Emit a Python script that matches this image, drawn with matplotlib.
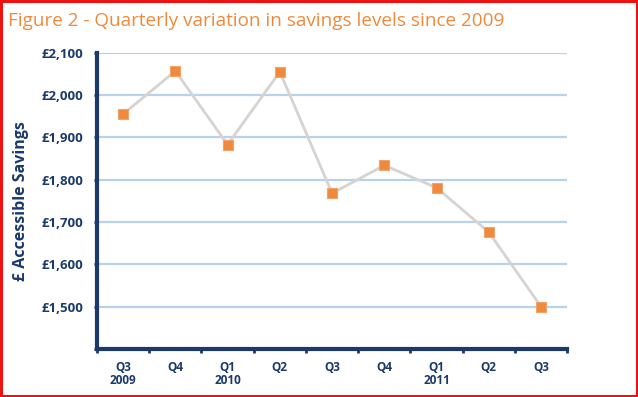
import numpy as np
import matplotlib.pyplot as plt
from matplotlib.patches import Rectangle

quarters = ['Q3\n2009', 'Q4', 'Q1\n2010', 'Q2', 'Q3', 'Q4', 'Q1\n2011', 'Q2', 'Q3']
savings = [1955, 2057, 1883, 2055, 1768, 1834, 1781, 1676, 1500]
yticks = [1500, 1600, 1700, 1800, 1900, 2000, 2100]

navy = '#1b3a6b'
orange = '#ee8a3c'

plt.rcParams['font.family'] = ['Open Sans', 'DejaVu Sans']

fig = plt.figure(figsize=(6.38, 3.97), dpi=100)
fig.patches.append(Rectangle((0.002, 0.003), 0.996, 0.994, transform=fig.transFigure,
                             fill=False, edgecolor='#ee1111', linewidth=2.2))
fig.text(0.012, 0.947, 'Figure 2 - Quarterly variation in savings levels since 2009',
         color=orange, fontsize=13.6, ha='left', va='center')

ax = fig.add_axes([0.152, 0.121, 0.737, 0.746])
x = np.arange(len(quarters))
ax.set_xlim(-0.5, len(quarters) - 0.5)
ax.set_ylim(1400, 2100)

for v in yticks:
    ax.axhline(v, color='#b7d3ec', linewidth=1.6, zorder=1)

ax.plot(x, savings, color='#d6d3d0', linewidth=2, zorder=2)
ax.plot(x, savings, linestyle='none', marker='s', markersize=7.5,
        markerfacecolor=orange, markeredgecolor='#f3a36a', markeredgewidth=0.8, zorder=3)

for s in ['top', 'right']:
    ax.spines[s].set_visible(False)
for s in ['left', 'bottom']:
    ax.spines[s].set_color(navy)
    ax.spines[s].set_linewidth(3)

ax.set_yticks(yticks)
ax.set_yticks([1400], minor=True)
ax.set_yticklabels(['£{:,}'.format(v) for v in yticks])
ax.set_xticks(x)
ax.set_xticklabels(quarters)
ax.set_xticks(np.arange(-0.5, len(quarters)), minor=True)

ax.tick_params(axis='y', which='both', direction='out', length=2, width=2, color=navy,
               labelsize=9.5, labelcolor=navy, pad=8)
ax.tick_params(axis='x', which='major', length=0, labelsize=8.5, labelcolor=navy, pad=9)
ax.tick_params(axis='x', which='minor', direction='out', length=3, width=2, color=navy)
for lbl in ax.get_xticklabels() + ax.get_yticklabels():
    lbl.set_fontweight('bold')
for lbl in ax.get_xticklabels():
    lbl.set_linespacing(0.95)

ax.set_ylabel('£ Accessible Savings', color=navy, fontsize=11.5, fontweight='bold', labelpad=9)

fig.savefig('out.png', dpi=100)
